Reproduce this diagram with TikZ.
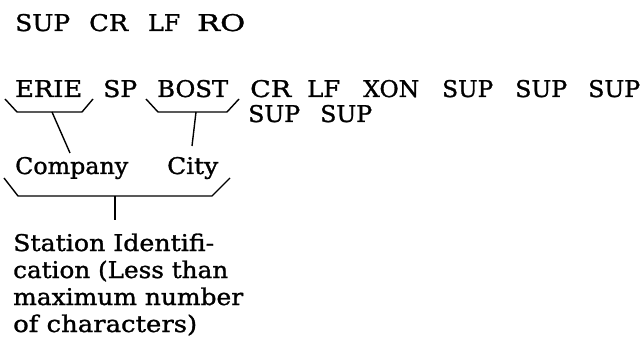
\documentclass[tikz,border=0pt]{standalone}
\usepackage{fontspec}
\usepackage{graphicx}
\newfontfamily\dvserif[FakeBold=1.2]{DejaVu Serif}
\newcommand{\fitw}[2]{\resizebox{#1pt}{\height}{#2}}
\tikzset{
  word/.style={anchor=base west, inner sep=0pt, font=\dvserif\fontsize{23}{28}\selectfont},
  brk/.style={line width=1.4pt, line join=miter},
  stem/.style={line width=1.4pt}
}
\begin{document}
\begin{tikzpicture}[x=1pt,y=-1pt]
\useasboundingbox (0,0) rectangle (642,339);
% line 1
\node[word] (l1a) at (15,31) {\fitw{55}{SUP}};
\node[word] (l1b) at (89,31) {\fitw{39}{CR}};
\node[word] (l1c) at (148,31) {\fitw{32}{LF}};
\node[word] (l1d) at (197,31) {\fitw{48}{RO}};
% line 2
\node[word] (erie) at (15,97) {\fitw{67}{ERIE}};
\node[word] (sp) at (103,97) {\fitw{34}{SP}};
\node[word] (bost) at (157,97) {\fitw{71}{BOST}};
\node[word] (cr2) at (250,97) {\fitw{41}{CR}};
\node[word] (lf2) at (307,97) {\fitw{33}{LF}};
\node[word] (xon) at (363,97) {\fitw{56}{XON}};
\node[word] (s1) at (442,97) {\fitw{51}{SUP}};
\node[word] (s2) at (515,97) {\fitw{52}{SUP}};
\node[word] (s3) at (588,97) {\fitw{52}{SUP}};
% line 3
\node[word] (s4) at (248,122) {\fitw{52}{SUP}};
\node[word] (s5) at (320,122) {\fitw{52}{SUP}};
% labels
\node[word] (company) at (15,174) {\fitw{113}{Company}};
\node[word] (city) at (167,174) {\fitw{51}{City}};
% station identification
\node[word] (st1) at (13,251) {\fitw{201}{Station Identifi-}};
\node[word] (st2) at (13,278) {\fitw{215}{cation (Less than}};
\node[word] (st3) at (13,305) {\fitw{230}{maximum number}};
\node[word] (st4) at (13,332) {\fitw{184}{of characters)}};
% brackets
\coordinate (eL) at (5,99);
\coordinate (eM) at (52,112);
\coordinate (eR) at (93,99);
\draw[brk] (eL) -- (17,112) -- (82,112) -- (eR);
\coordinate (bL) at (146,99);
\coordinate (bM) at (196,112);
\coordinate (bR) at (239,99);
\draw[brk] (bL) -- (158,112) -- (227,112) -- (bR);
\coordinate (cL) at (4,178);
\coordinate (cM) at (115,196);
\coordinate (cR) at (230,178);
\draw[brk] (cL) -- (18,196) -- (212,196) -- (cR);
% stems
\coordinate (eT) at (70,153);
\coordinate (bT) at (192,146);
\coordinate (cT) at (115,220);
\draw[stem] (eM) -- (eT);
\draw[stem] (bM) -- (bT);
\draw[stem] (cM) -- (cT);
\end{tikzpicture}
\end{document}
